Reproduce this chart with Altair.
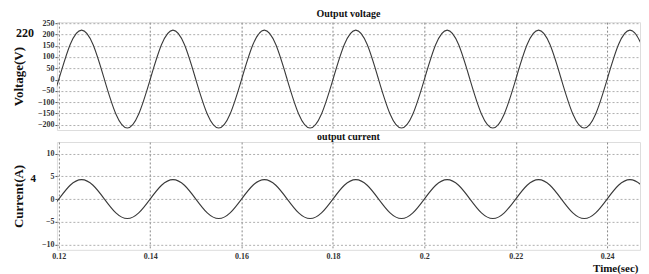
import altair as alt
import pandas as pd

# time samples (s)
t = [0.1175, 0.12, 0.1225, 0.125, 0.1275, 0.13, 0.1325, 0.135, 0.1375,
     0.14, 0.1425, 0.145, 0.1475, 0.15, 0.1525, 0.155, 0.1575,
     0.16, 0.1625, 0.165, 0.1675, 0.17, 0.1725, 0.175, 0.1775,
     0.18, 0.1825, 0.185, 0.1875, 0.19, 0.1925, 0.195, 0.1975,
     0.2, 0.2025, 0.205, 0.2075, 0.21, 0.2125, 0.215, 0.2175,
     0.22, 0.2225, 0.225, 0.2275, 0.23, 0.2325, 0.235, 0.2375,
     0.24, 0.2425, 0.245, 0.2475, 0.25]

# output voltage (V)
voltage = [-152, 0, 155, 219, 155, 0, -152, -214,
           -152, 0, 155, 219, 155, 0, -152, -214,
           -152, 0, 155, 219, 155, 0, -152, -214,
           -152, 0, 155, 219, 155, 0, -152, -214,
           -152, 0, 155, 219, 155, 0, -152, -214,
           -152, 0, 155, 219, 155, 0, -152, -214,
           -152, 0, 155, 219, 155, 0]

# output current (A)
current = [-3.05, 0, 3.05, 4.3, 3.05, 0, -3.05, -4.3,
           -3.05, 0, 3.05, 4.3, 3.05, 0, -3.05, -4.3,
           -3.05, 0, 3.05, 4.3, 3.05, 0, -3.05, -4.3,
           -3.05, 0, 3.05, 4.3, 3.05, 0, -3.05, -4.3,
           -3.05, 0, 3.05, 4.3, 3.05, 0, -3.05, -4.3,
           -3.05, 0, 3.05, 4.3, 3.05, 0, -3.05, -4.3,
           -3.05, 0, 3.05, 4.3, 3.05, 0]

x_ticks = [0.12, 0.14, 0.16, 0.18, 0.2, 0.22, 0.24]
v_ticks = [-200, -150, -100, -50, 0, 50, 100, 150, 200, 250]
i_ticks = [-10, -5, 0, 5, 10]

# extra annotations on the y axes
v_note_text = ["220"]
v_note_value = [206]
i_note_text = ["4"]
i_note_value = [4.4]

df = pd.DataFrame({"t": t, "v": voltage, "i": current})
v_note_df = pd.DataFrame({"txt": v_note_text, "v": v_note_value})
i_note_df = pd.DataFrame({"txt": i_note_text, "i": i_note_value})

SERIF = "Liberation Serif"
W, H = 584, 108
xdom = [0.1196, 0.2472]

label_expr = "datum.value == 0.2 ? '0.2' : format(datum.value, '.2f')"


def yaxis(values, title):
    return alt.Axis(values=values, title=title, grid=True, gridDash=[2, 2],
                    gridColor="#9a9a9a", gridWidth=0.8, domain=False, ticks=True,
                    tickSize=2, tickColor="#555", labelFont=SERIF, labelFontSize=8,
                    labelFontWeight="bold", labelColor="#333", labelPadding=1,
                    labelOverlap=False, labelFlush=False, labelSeparation=0,
                    titleFont=SERIF, titleFontSize=13, titleFontWeight="bold",
                    titleColor="#111", titleX=-38, titleY=H / 2, titleAngle=270,
                    titleBaseline="middle", titleAlign="center")


def xaxis(show_labels):
    kw = dict(values=x_ticks, grid=True, gridDash=[2, 2], gridColor="#888",
              gridWidth=1, domain=False, ticks=False)
    if show_labels:
        kw.update(labels=True, labelFont=SERIF, labelFontSize=8, labelFontWeight="bold",
                  labelColor="#333", labelPadding=3, labelExpr=label_expr,
                  labelOverlap=False, labelFlush=False,
                  title="Time(sec)", titleFont=SERIF, titleFontSize=11,
                  titleFontWeight="bold", titleColor="#111", titleX=582, titleY=19,
                  titleAlign="right", titleBaseline="middle")
    else:
        kw.update(labels=False, title=None)
    return alt.Axis(**kw)


xs = alt.Scale(domain=xdom, nice=False, zero=False)
vs = alt.Scale(domain=[-223, 254], nice=False)
cs = alt.Scale(domain=[-11.2, 12.6], nice=False)

v_axis = yaxis(v_ticks, "Voltage(V)")
i_axis = yaxis(i_ticks, "Current(A)")

v_line = alt.Chart(df).mark_line(color="#3a3a3a", strokeWidth=1.1, interpolate="natural",
                                 clip=True).encode(
    x=alt.X("t:Q", scale=xs, axis=xaxis(False)),
    y=alt.Y("v:Q", scale=vs, axis=v_axis),
)
v_note = alt.Chart(v_note_df).mark_text(font=SERIF, fontSize=12, fontWeight="bold",
                                        align="right", baseline="middle",
                                        color="#111").encode(
    text="txt:N", x=alt.value(-23), y=alt.Y("v:Q", scale=vs, axis=v_axis))

top = alt.layer(v_line, v_note).properties(
    width=W, height=H,
    title=alt.TitleParams("Output voltage", font=SERIF, fontSize=10, fontWeight="bold",
                          color="#111", offset=0, anchor="middle"))

i_line = alt.Chart(df).mark_line(color="#3a3a3a", strokeWidth=1.1, interpolate="natural",
                                 clip=True).encode(
    x=alt.X("t:Q", scale=xs, axis=xaxis(True)),
    y=alt.Y("i:Q", scale=cs, axis=i_axis),
)
i_note = alt.Chart(i_note_df).mark_text(font=SERIF, fontSize=11, fontWeight="bold",
                                        align="right", baseline="middle",
                                        color="#111").encode(
    text="txt:N", x=alt.value(-21), y=alt.Y("i:Q", scale=cs, axis=i_axis))

bottom = alt.layer(i_line, i_note).properties(
    width=W, height=H,
    title=alt.TitleParams("output current", font=SERIF, fontSize=10, fontWeight="bold",
                          color="#111", offset=0, anchor="middle"))

chart = alt.vconcat(top, bottom, spacing=0).properties(
    padding={"left": 4, "top": 0, "right": 0, "bottom": 0}
).configure_view(stroke="#555", strokeWidth=2).configure_axisY(
    labelOverlap=False
).configure(background="white")

chart.save("out.html", embed_options={"renderer": "svg", "actions": False})
